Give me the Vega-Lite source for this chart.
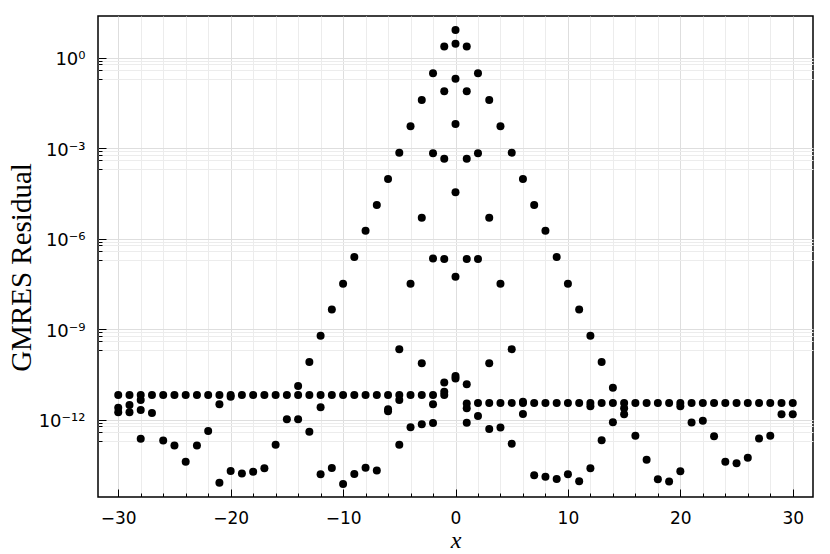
{
  "$schema": "https://vega.github.io/schema/vega-lite/v6.json",
  "width": 715,
  "height": 481,
  "autosize": {"type": "none"},
  "padding": {"left": 98, "top": 16, "right": 17, "bottom": 57},
  "background": "white",
  "config": {
    "view": {"stroke": "#000000", "strokeWidth": 1.5},
    "axis": {"labelColor": "#000000", "titleColor": "#000000", "tickColor": "#000000", "tickWidth": 1, "domain": false, "gridWidth": 1}
  },
  "data": {"values": [
    {"x": -30, "y": 6.61e-12}, {"x": -30, "y": 2.51e-12}, {"x": -30, "y": 1.778e-12},
    {"x": -29, "y": 6.61e-12}, {"x": -29, "y": 3.09e-12}, {"x": -29, "y": 1.778e-12},
    {"x": -28, "y": 6.61e-12}, {"x": -28, "y": 4.47e-12}, {"x": -28, "y": 2.09e-12}, {"x": -28, "y": 2.34e-13},
    {"x": -27, "y": 6.61e-12}, {"x": -27, "y": 1.66e-12},
    {"x": -26, "y": 6.61e-12}, {"x": -26, "y": 2.04e-13},
    {"x": -25, "y": 6.61e-12}, {"x": -25, "y": 1.413e-13},
    {"x": -24, "y": 6.61e-12}, {"x": -24, "y": 4.07e-14},
    {"x": -23, "y": 6.61e-12}, {"x": -23, "y": 1.413e-13},
    {"x": -22, "y": 6.61e-12}, {"x": -22, "y": 4.27e-13},
    {"x": -21, "y": 6.61e-12}, {"x": -21, "y": 3.24e-12}, {"x": -21, "y": 8.13e-15},
    {"x": -20, "y": 6.61e-12}, {"x": -20, "y": 5.75e-12}, {"x": -20, "y": 2.0e-14},
    {"x": -19, "y": 6.61e-12}, {"x": -19, "y": 1.66e-14},
    {"x": -18, "y": 6.61e-12}, {"x": -18, "y": 1.905e-14},
    {"x": -17, "y": 6.61e-12}, {"x": -17, "y": 2.45e-14},
    {"x": -16, "y": 6.61e-12}, {"x": -16, "y": 1.479e-13},
    {"x": -15, "y": 6.61e-12}, {"x": -15, "y": 1.047e-12},
    {"x": -14, "y": 1.318e-11}, {"x": -14, "y": 6.61e-12}, {"x": -14, "y": 1.047e-12},
    {"x": -13, "y": 8.128e-11}, {"x": -13, "y": 6.61e-12}, {"x": -13, "y": 3.98e-13},
    {"x": -12, "y": 6.026e-10}, {"x": -12, "y": 6.61e-12}, {"x": -12, "y": 2.57e-12}, {"x": -12, "y": 1.55e-14},
    {"x": -11, "y": 4.467e-9}, {"x": -11, "y": 6.61e-12}, {"x": -11, "y": 2.51e-14},
    {"x": -10, "y": 3.236e-8}, {"x": -10, "y": 6.61e-12}, {"x": -10, "y": 7.41e-15},
    {"x": -9, "y": 2.455e-7}, {"x": -9, "y": 6.61e-12}, {"x": -9, "y": 1.585e-14},
    {"x": -8, "y": 1.82e-6}, {"x": -8, "y": 6.61e-12}, {"x": -8, "y": 2.57e-14},
    {"x": -7, "y": 1.318e-5}, {"x": -7, "y": 6.61e-12}, {"x": -7, "y": 2.09e-14},
    {"x": -6, "y": 9.55e-5}, {"x": -6, "y": 6.61e-12}, {"x": -6, "y": 2.24e-12}, {"x": -6, "y": 1.905e-12},
    {"x": -5, "y": 7.1e-4}, {"x": -5, "y": 2.188e-10}, {"x": -5, "y": 6.61e-12}, {"x": -5, "y": 4.47e-12}, {"x": -5, "y": 1.479e-13},
    {"x": -4, "y": 5.32e-3}, {"x": -4, "y": 3.236e-8}, {"x": -4, "y": 6.61e-12}, {"x": -4, "y": 5.62e-13},
    {"x": -3, "y": 3.96e-2}, {"x": -3, "y": 4.9e-6}, {"x": -3, "y": 7.41e-11}, {"x": -3, "y": 6.61e-12}, {"x": -3, "y": 7.08e-13},
    {"x": -2, "y": 0.304}, {"x": -2, "y": 6.76e-4}, {"x": -2, "y": 2.19e-7}, {"x": -2, "y": 6.61e-12}, {"x": -2, "y": 3.24e-12}, {"x": -2, "y": 7.76e-13},
    {"x": -1, "y": 2.32}, {"x": -1, "y": 7.69e-2}, {"x": -1, "y": 4.49e-4}, {"x": -1, "y": 2.14e-7}, {"x": -1, "y": 1.698e-11}, {"x": -1, "y": 8.51e-12}, {"x": -1, "y": 6.61e-12},
    {"x": 0, "y": 8.28}, {"x": 0, "y": 2.91}, {"x": 0, "y": 0.2014}, {"x": 0, "y": 6.34e-3}, {"x": 0, "y": 3.467e-5}, {"x": 0, "y": 5.495e-8}, {"x": 0, "y": 2.818e-11}, {"x": 0, "y": 2.344e-11},
    {"x": 1, "y": 2.32}, {"x": 1, "y": 7.69e-2}, {"x": 1, "y": 4.49e-4}, {"x": 1, "y": 2.14e-7}, {"x": 1, "y": 1.514e-11}, {"x": 1, "y": 3.47e-12}, {"x": 1, "y": 2.4e-12}, {"x": 1, "y": 7.94e-13},
    {"x": 2, "y": 0.304}, {"x": 2, "y": 6.76e-4}, {"x": 2, "y": 2.14e-7}, {"x": 2, "y": 3.59e-12}, {"x": 2, "y": 1.318e-12},
    {"x": 3, "y": 3.96e-2}, {"x": 3, "y": 4.9e-6}, {"x": 3, "y": 7.41e-11}, {"x": 3, "y": 3.59e-12}, {"x": 3, "y": 4.9e-13},
    {"x": 4, "y": 5.32e-3}, {"x": 4, "y": 3.236e-8}, {"x": 4, "y": 3.59e-12}, {"x": 4, "y": 5.5e-13},
    {"x": 5, "y": 7.1e-4}, {"x": 5, "y": 2.188e-10}, {"x": 5, "y": 3.59e-12}, {"x": 5, "y": 1.585e-13},
    {"x": 6, "y": 9.55e-5}, {"x": 6, "y": 3.98e-12}, {"x": 6, "y": 3.59e-12}, {"x": 6, "y": 1.55e-12},
    {"x": 7, "y": 1.318e-5}, {"x": 7, "y": 3.59e-12}, {"x": 7, "y": 1.445e-14},
    {"x": 8, "y": 1.82e-6}, {"x": 8, "y": 3.59e-12}, {"x": 8, "y": 1.29e-14},
    {"x": 9, "y": 2.455e-7}, {"x": 9, "y": 3.59e-12}, {"x": 9, "y": 1.096e-14},
    {"x": 10, "y": 3.236e-8}, {"x": 10, "y": 3.59e-12}, {"x": 10, "y": 1.55e-14},
    {"x": 11, "y": 4.467e-9}, {"x": 11, "y": 3.59e-12}, {"x": 11, "y": 9.12e-15},
    {"x": 12, "y": 6.026e-10}, {"x": 12, "y": 3.59e-12}, {"x": 12, "y": 2.82e-12}, {"x": 12, "y": 2.45e-14},
    {"x": 13, "y": 8.128e-11}, {"x": 13, "y": 3.59e-12}, {"x": 13, "y": 2.09e-13},
    {"x": 14, "y": 1.148e-11}, {"x": 14, "y": 3.59e-12}, {"x": 14, "y": 8.32e-13},
    {"x": 15, "y": 3.59e-12}, {"x": 15, "y": 2.4e-12}, {"x": 15, "y": 1.51e-12},
    {"x": 16, "y": 3.59e-12}, {"x": 16, "y": 2.95e-13},
    {"x": 17, "y": 3.59e-12}, {"x": 17, "y": 4.68e-14},
    {"x": 18, "y": 3.59e-12}, {"x": 18, "y": 1.07e-14},
    {"x": 19, "y": 3.59e-12}, {"x": 19, "y": 8.91e-15},
    {"x": 20, "y": 3.59e-12}, {"x": 20, "y": 2.82e-12}, {"x": 20, "y": 1.95e-14},
    {"x": 21, "y": 3.59e-12}, {"x": 21, "y": 8.13e-13},
    {"x": 22, "y": 3.59e-12}, {"x": 22, "y": 9.33e-13},
    {"x": 23, "y": 3.59e-12}, {"x": 23, "y": 2.82e-13},
    {"x": 24, "y": 3.59e-12}, {"x": 24, "y": 4.07e-14},
    {"x": 25, "y": 3.59e-12}, {"x": 25, "y": 3.63e-14},
    {"x": 26, "y": 3.59e-12}, {"x": 26, "y": 5.5e-14},
    {"x": 27, "y": 3.59e-12}, {"x": 27, "y": 2.4e-13},
    {"x": 28, "y": 3.59e-12}, {"x": 28, "y": 2.95e-13},
    {"x": 29, "y": 3.59e-12}, {"x": 29, "y": 1.51e-12},
    {"x": 30, "y": 3.59e-12}, {"x": 30, "y": 1.51e-12}
  ]},
  "mark": {"type": "circle", "size": 64, "color": "#000000", "opacity": 1},
  "encoding": {
    "x": {
      "field": "x", "type": "quantitative",
      "scale": {"domain": [-31.8, 31.8], "nice": false, "zero": false},
      "axis": {
        "title": "x",
        "titleFont": "Liberation Serif", "titleFontStyle": "italic", "titleFontWeight": "normal", "titleFontSize": 24,
        "titleBaseline": "alphabetic", "titleY": 50,
        "values": [-30, -28, -26, -24, -22, -20, -18, -16, -14, -12, -10, -8, -6, -4, -2, 0, 2, 4, 6, 8, 10, 12, 14, 16, 18, 20, 22, 24, 26, 28, 30],
        "labelExpr": "datum.value % 10 == 0 ? format(datum.value, 'd') : ''",
        "labelFont": "DejaVu Sans", "labelFontSize": 17,
        "labelPadding": 21,
        "grid": true,
        "gridColor": {"condition": {"test": "datum.value % 10 == 0", "value": "#dedede"}, "value": "#ececec"},
        "tickSize": {"condition": {"test": "datum.value % 10 == 0", "value": -8}, "value": -4}
      }
    },
    "y": {
      "field": "y", "type": "quantitative",
      "scale": {"type": "log", "domain": [2.75e-15, 24], "nice": false},
      "axis": {
        "title": "GMRES Residual",
        "titleFont": "Liberation Serif", "titleFontWeight": "normal", "titleFontSize": 29,
        "titleAngle": 270, "titleAlign": "center", "titleBaseline": "alphabetic",
        "titleX": -68, "titleY": 251,
        "values": [1, 0.8002, 0.6004, 0.4006, 0.2008, 0.001, 0.0008002, 0.0006004, 0.0004006, 0.0002008, 1e-6, 8.002e-7, 6.004e-7, 4.006e-7, 2.008e-7, 1e-9, 8.002e-10, 6.004e-10, 4.006e-10, 2.008e-10, 1e-12, 8.002e-13, 6.004e-13, 4.006e-13, 2.008e-13],
        "labelExpr": "datum.value == 1 ? '10⁰' : datum.value == 0.001 ? '10⁻³' : datum.value == 1e-6 ? '10⁻⁶' : datum.value == 1e-9 ? '10⁻⁹' : datum.value == 1e-12 ? '10⁻¹²' : ''",
        "labelFont": "DejaVu Sans", "labelFontSize": 18,
        "labelPadding": 21,
        "labelOffset": 2,
        "grid": true,
        "gridColor": {"condition": {"test": "datum.value == 1 || datum.value == 0.001 || datum.value == 1e-6 || datum.value == 1e-9 || datum.value == 1e-12", "value": "#dedede"}, "value": "#ececec"},
        "tickSize": {"condition": {"test": "datum.value == 1 || datum.value == 0.001 || datum.value == 1e-6 || datum.value == 1e-9 || datum.value == 1e-12", "value": -8}, "value": -4}
      }
    }
  }
}
